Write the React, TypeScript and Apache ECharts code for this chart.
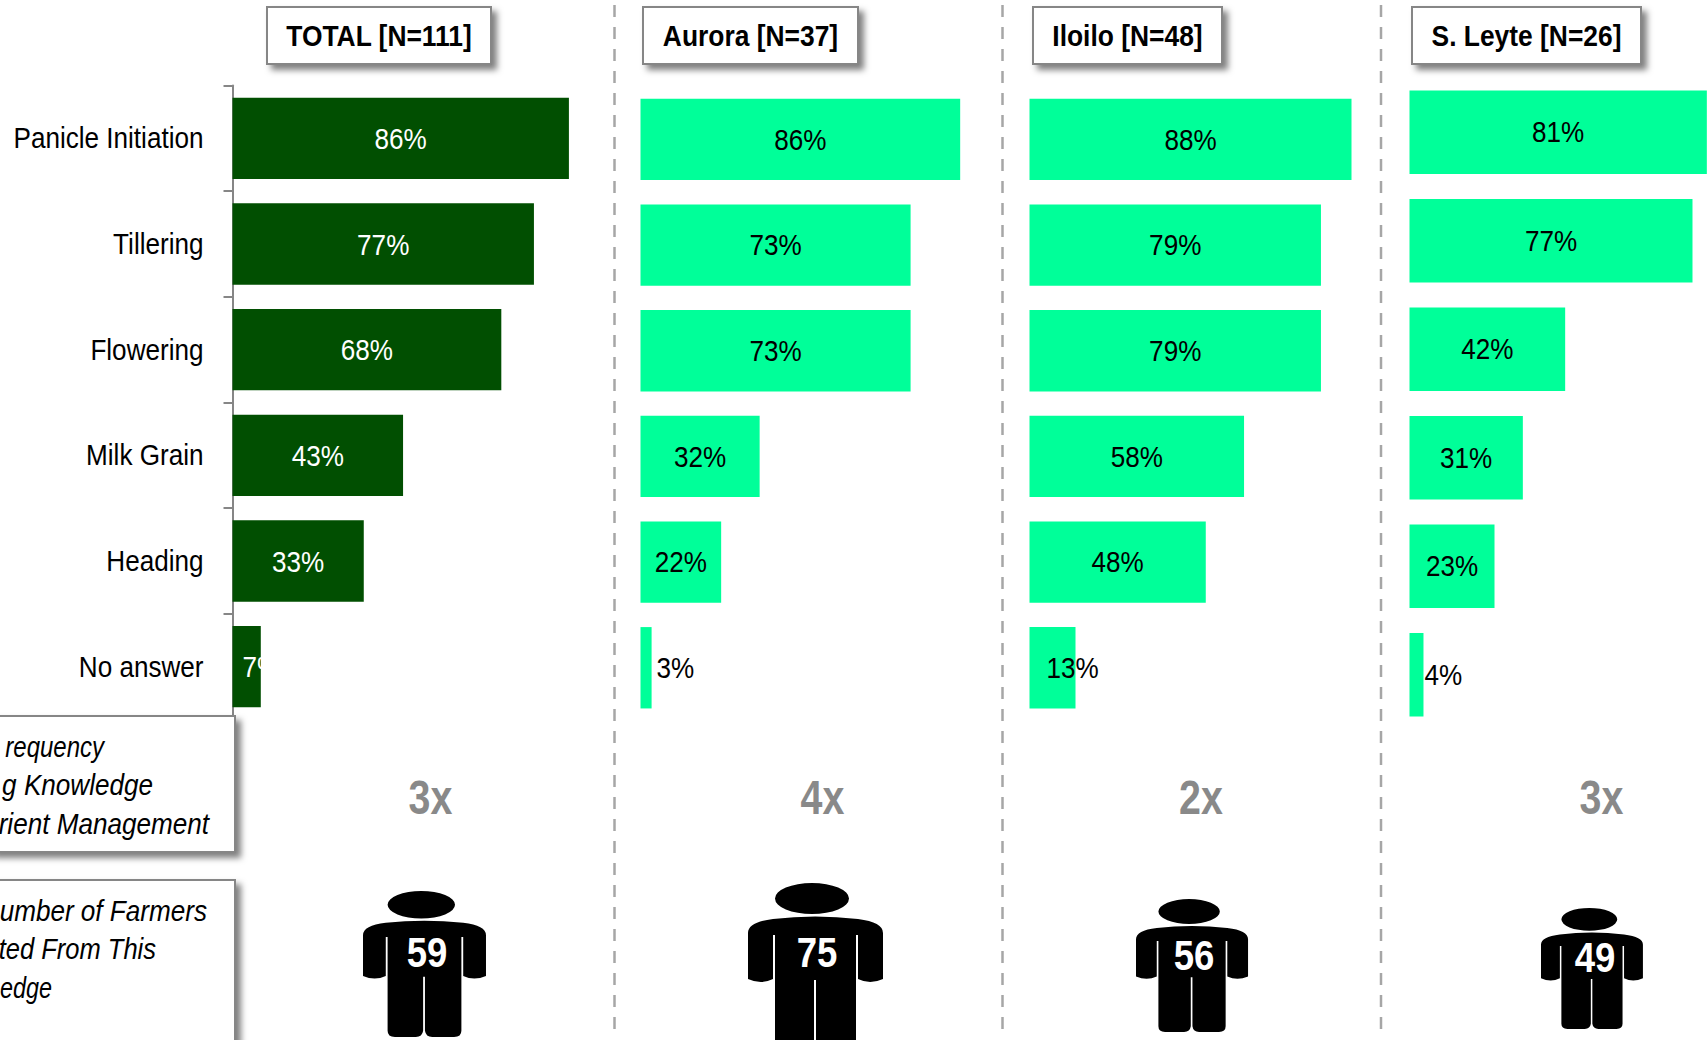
import React, { useEffect, useRef } from "react";
import * as echarts from "echarts";

const categories = ["Panicle Initiation", "Tillering", "Flowering", "Milk Grain", "Heading", "No answer"];
const totalValues = [85.6, 76.7, 68.4, 43.4, 33.4, 7.2];
const auroraValues = [86.4, 73, 73, 32.2, 21.8, 3];
const iloiloValues = [87.5, 79.2, 79.2, 58.3, 47.9, 12.5];
const leyteValues = [80.8, 76.9, 42.3, 30.8, 23.1, 3.8];
const headers = ["TOTAL [N=111]", "Aurora [N=37]", "Iloilo [N=48]", "S. Leyte [N=26]"];
const multiples = ["3x", "4x", "2x", "3x"];
const farmerCounts = ["59", "75", "56", "49"];
const leftBoxOne = ["requency", "g Knowledge", "rient Management"];
const leftBoxTwo = ["umber of Farmers", "ted From This", "edge"];

const FONT = '"Liberation Sans", Arial, sans-serif';
const NARROW = 0.87;
const DARK = "#014f01";
const LIGHT = "#00ff99";
const PERSON =
  "M27 15.5A37 15.5 0 1 1 101 15.5A37 15.5 0 1 1 27 15.5Z" +
  "M0 50Q0 39 25 36Q67 31 110 36Q135 39 135 50L135 96Q122 102 110 96L110 52L108 52L108 158Q108 165 100 165L76 165Q69 165 68 158L68 97L66 97L66 158Q65 165 58 165L35 165Q27 165 27 158L27 52L25 52L25 96Q13 102 0 96Z";
echarts.graphic.registerShape("person", echarts.graphic.extendPath(PERSON, {}));

const grids = [
  { left: 232.5, top: 85.5, width: 393, height: 634 },
  { left: 640.5, top: 86.6, width: 370, height: 634 },
  { left: 1029.5, top: 86.6, width: 368, height: 634 },
  { left: 1409.5, top: 78, width: 368, height: 651 },
];
const headerBoxes = [
  [267, 7, 224, 57],
  [643, 7, 215, 57],
  [1033, 7, 189, 57],
  [1412, 7, 229, 57],
];
const separators = [614.5, 1002.5, 1381];
const multipleX = [430.5, 822.5, 1201, 1601.5];
const persons = [
  { x: 363, y: 891, sx: 0.911, sy: 0.885, numX: 427, numY: 952 },
  { x: 748, y: 883, sx: 1, sy: 1, numX: 817, numY: 952 },
  { x: 1136, y: 899, sx: 0.83, sy: 0.806, numX: 1194, numY: 955 },
  { x: 1541, y: 908, sx: 0.755, sy: 0.733, numX: 1595, numY: 957 },
];

const textEl = (text: string, x: number, y: number, size: number, fill: string, extra: any = {}, scale = NARROW) => ({
  type: "text",
  z: 20,
  x,
  y,
  scaleX: scale,
  style: { text, fontFamily: FONT, fontSize: size, fill, textAlign: "center", textVerticalAlign: "middle", ...extra },
});

const boxEl = (x: number, y: number, width: number, height: number) => ({
  type: "rect",
  z: 10,
  shape: { x, y, width, height },
  style: { fill: "#fff", stroke: "#868686", lineWidth: 2, shadowBlur: 6, shadowOffsetX: 5, shadowOffsetY: 5, shadowColor: "rgba(0,0,0,0.5)" },
});

const barSeries = (values: number[], index: number, color: string) => ({
  type: "bar",
  xAxisIndex: index,
  yAxisIndex: index,
  barCategoryGap: "23%",
  itemStyle: { color },
  data: values,
});

// Value labels drawn through the axes' scales, so they can carry the narrow look of the reference.
const labelSeries = (values: number[], index: number, labelColor: string) => ({
  type: "custom",
  xAxisIndex: index,
  yAxisIndex: index,
  z: 5,
  clip: false,
  encode: { x: 0, y: 1 },
  data: values.map((v, i) => [v, i]),
  renderItem: (_: any, api: any) => {
    const v = api.value(0);
    const end = api.coord([v, api.value(1)]);
    const start = api.coord([0, api.value(1)]);
    let x = (start[0] + end[0]) / 2;
    let align = "center";
    if (index === 0 && v < 10) {
      x = start[0] + 10;
      align = "left";
    } else if (index > 0 && v > 10 && v < 15) {
      x = start[0] + 17;
      align = "left";
    } else if (index > 0 && v < 5) {
      x = end[0] + (index === 1 ? 5 : 1);
      align = "left";
    }
    return {
      type: "text",
      x,
      y: end[1] + (index === 0 ? 0.5 : 0),
      scaleX: NARROW,
      style: { text: `${Math.round(v)}%`, fill: labelColor, fontFamily: FONT, fontSize: 30, textAlign: align, textVerticalAlign: "middle" },
    };
  },
});

const categorySeries = {
  type: "custom",
  xAxisIndex: 0,
  yAxisIndex: 0,
  clip: false,
  encode: { x: 0, y: 1 },
  data: categories.map((_, i) => [0, i]),
  renderItem: (_: any, api: any) => {
    const p = api.coord([0, api.value(1)]);
    return {
      type: "text",
      x: p[0] - 29,
      y: p[1],
      scaleX: NARROW,
      style: { text: categories[api.value(1)], fill: "#000", fontFamily: FONT, fontSize: 30, textAlign: "right", textVerticalAlign: "middle" },
    };
  },
};

export default function App() {
  const ref = useRef<HTMLDivElement>(null);
  useEffect(() => {
    document.body.style.margin = "0";
    const chart = echarts.init(ref.current!, undefined, { renderer: "svg" });
    const graphic: any[] = [];
    separators.forEach((x) =>
      graphic.push({
        type: "line",
        z: 1,
        shape: { x1: x, y1: 0, x2: x, y2: 1030 },
        style: { stroke: "#a6a6a6", lineWidth: 2.5, lineDash: [12, 10], lineDashOffset: -5 },
      })
    );
    headers.forEach((h, i) => {
      const [x, y, w, hh] = headerBoxes[i];
      graphic.push(boxEl(x, y, w, hh));
      graphic.push(textEl(h, x + w / 2, y + hh / 2, 30, "#000", { fontWeight: "bold" }, 0.88));
    });
    graphic.push(boxEl(-10, 716, 245, 136));
    graphic.push(boxEl(-10, 880, 245, 190));
    const leftEnds1 = [104, 153, 209];
    const leftEnds2 = [207, 156, 52];
    const leftScale1 = [0.8, 0.87, 0.87];
    const leftScale2 = [0.87, 0.85, 0.78];
    const leftY1 = [747, 785, 824];
    const leftY2 = [911, 949, 988];
    leftBoxOne.forEach((t, i) =>
      graphic.push(textEl(t, leftEnds1[i], leftY1[i], 30, "#000", { textAlign: "right", fontStyle: "italic" }, leftScale1[i]))
    );
    leftBoxTwo.forEach((t, i) =>
      graphic.push(textEl(t, leftEnds2[i], leftY2[i], 30, "#000", { textAlign: "right", fontStyle: "italic" }, leftScale2[i]))
    );
    multiples.forEach((t, i) =>
      graphic.push(textEl(t, multipleX[i], 797, 48, "#898989", { fontWeight: "bold" }, 0.82))
    );
    persons.forEach((p, i) => {
      graphic.push({ type: "person", z: 15, x: p.x, y: p.y, scaleX: p.sx, scaleY: p.sy, style: { fill: "#000" } });
      graphic.push(textEl(farmerCounts[i], p.numX, p.numY, 42, "#fff", { fontWeight: "bold" }));
    });

    chart.setOption({
      animation: false,
      backgroundColor: "#fff",
      grid: grids.map((g) => ({ ...g, containLabel: false, outerBoundsMode: "none" })),
      xAxis: grids.map((_, i) => ({ type: "value", gridIndex: i, min: 0, max: 100, show: false })),
      yAxis: grids.map((_, i) => ({
        type: "category",
        gridIndex: i,
        inverse: true,
        data: categories,
        show: i === 0,
        axisLine: { show: true, lineStyle: { color: "#868686", width: 2 } },
        axisTick: { show: true, length: 9, alignWithLabel: false, lineStyle: { color: "#868686", width: 2 } },
        axisLabel: { show: false },
      })),
      series: [
        barSeries(totalValues, 0, DARK),
        barSeries(auroraValues, 1, LIGHT),
        barSeries(iloiloValues, 2, LIGHT),
        barSeries(leyteValues, 3, LIGHT),
        labelSeries(totalValues, 0, "#fff"),
        labelSeries(auroraValues, 1, "#000"),
        labelSeries(iloiloValues, 2, "#000"),
        labelSeries(leyteValues, 3, "#000"),
        categorySeries,
      ],
      graphic,
    });
    return () => chart.dispose();
  }, []);
  return <div ref={ref} style={{ position: "fixed", left: 0, top: 0, width: 1708, height: 1040 }} />;
}
